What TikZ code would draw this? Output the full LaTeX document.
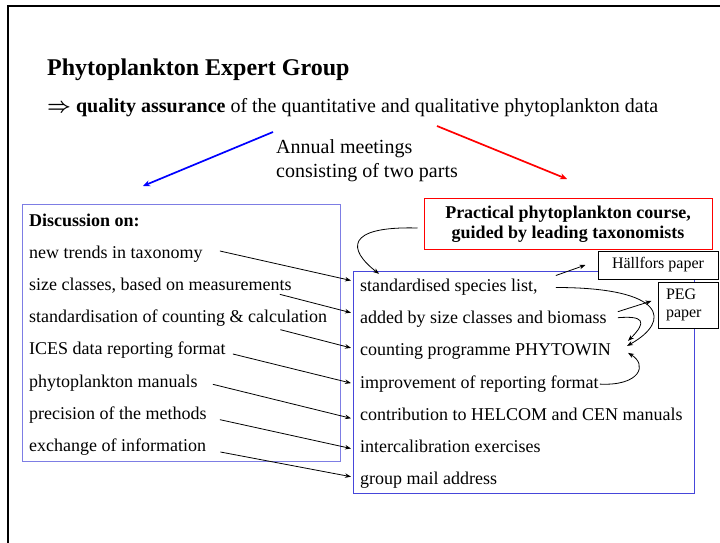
\documentclass[tikz,border=0pt]{standalone}
\usepackage{fontspec}
\setmainfont{Liberation Serif}
\usetikzlibrary{calc,positioning,arrows.meta}
\definecolor{leftblue}{RGB}{125,125,228}
\definecolor{rightblue}{RGB}{70,70,218}
\tikzset{
    list item/.style={anchor=base west, inner sep=0pt,
        font=\fontsize{18}{21}\selectfont},
    >={Stealth[length=6pt,width=4.5pt]},
    link/.style={->, line width=0.8pt},
    paper note/.style={draw, line width=1pt, fill=white, inner sep=0pt,
        font=\fontsize{16}{18}\selectfont},
}
\tikzstyle{arrow} = [line width=1.7pt, ->, >={Stealth[length=7pt,width=6pt]}]

\begin{document}
\begin{tikzpicture}[x=1pt,y=-1pt]
    \useasboundingbox (0,0) rectangle (720,543);
    \draw[line width=2.2pt] (8,543) -- (8,6) -- (720,6);

    % heading
    \node[anchor=base west, inner sep=0pt, font=\fontsize{24}{28}\selectfont\bfseries]
        (title) at (47,75) {Phytoplankton Expert Group};
    \node[list item, font=\fontsize{20}{24}\selectfont] (aim) at (47,112)
        {{\boldmath$\Rightarrow$} \textbf{quality assurance} of the quantitative and qualitative phytoplankton data};
    \node[list item, align=left, font=\fontsize{20}{24}\selectfont] (annual) at (276,177)
        {Annual meetings\\consisting of two parts};
    \coordinate (bluefrom) at (273,132);
    \coordinate (blueto) at (143,186);
    \coordinate (redfrom) at (437,126);
    \coordinate (redto) at (567,179);
    \draw[arrow, blue] (bluefrom) -- (blueto);
    \draw[arrow, red] (redfrom) -- (redto);

    % the two boxes
    \node[draw=leftblue, line width=1pt, minimum width=318pt, minimum height=257pt]
        (discbox) at (181,332.5) {};
    \node[draw=rightblue, line width=1pt, minimum width=341pt, minimum height=222pt]
        (resbox) at (523.5,382) {};
    \node[draw=red, line width=1pt, fill=white, minimum width=288pt, minimum height=51pt,
        align=center, inner sep=0pt, font=\fontsize{18}{20}\selectfont\bfseries]
        (course) at (568,224) {Practical phytoplankton course,\\guided by leading taxonomists};

    \node[list item, font=\fontsize{18}{21}\selectfont\bfseries] (disc) at (29,226) {Discussion on:};
    \foreach \i/\txt in {1/new trends in taxonomy,
                         2/{size classes, based on measurements},
                         3/standardisation of counting \& calculation,
                         4/ICES data reporting format,
                         5/phytoplankton manuals,
                         6/precision of the methods,
                         7/exchange of information}
        \node[list item] (l\i) at (29,{258+32.33*(\i-1)}) {\txt};
    \foreach \i/\txt in {1/{standardised species list,},
                         2/added by size classes and biomass,
                         3/counting programme PHYTOWIN,
                         4/improvement of reporting format,
                         5/contribution to HELCOM and CEN manuals,
                         6/intercalibration exercises,
                         7/group mail address}
        \node[list item] (r\i) at (360,{291.5+32.2*(\i-1)}) {\txt};

    % papers
    \node[paper note, minimum width=120pt, minimum height=28pt]
        (hal) at (658,265) {Hällfors paper};
    \node[paper note, minimum width=60pt, minimum height=46pt, align=left, text width=44pt]
        (peg) at (688,305) {PEG\\paper};

    % discussion -> results
    \foreach \i/\sx/\sy/\ey in {1/17/-7/-11, 2/-12/4/-11, 3/-47/7/-8, 4/7/-1/-5,
                                5/15/-3/-2, 6/13/0/-4, 7/14/0/-8}
        \draw[link] ([shift={(\sx,\sy)}]l\i.base east) -- ([shift={(-9,\ey)}]r\i.base west);

    \draw[link] ([shift={(-6,4)}]course.west) .. controls +(-73,-2) and +(-31,-24) ..
        ([shift={(19,-5)}]r1.north west);
    \draw[link] ([shift={(18,-16)}]r1.base east) -- ([xshift=-12pt]hal.west);
    \draw[link] ([shift={(11,-12)}]r2.base east) -- ([shift={(-6,-4)}]peg.west);
    \draw[link] ([shift={(18,-4)}]r1.base east) .. controls +(110,0) and +(45,-25) ..
        ([shift={(16,-10)}]r3.base east);
    \draw[link] ([shift={(11,-6)}]r2.base east) .. controls +(25,-2) and +(20,-20) ..
        ([shift={(17,-15)}]r3.base east);
    \draw[link] ([shift={(1,-4)}]r4.base east) .. controls +(40,2) and +(20,12) ..
        ([shift={(17,-3)}]r3.base east);
\end{tikzpicture}
\end{document}
